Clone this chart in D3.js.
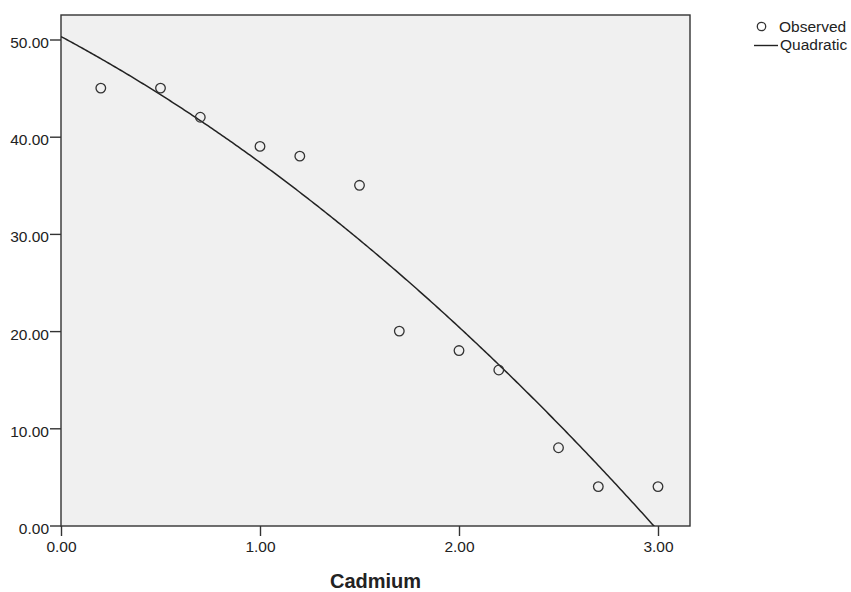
<!DOCTYPE html>
<html>
<head>
<meta charset="utf-8">
<script src="https://cdn.jsdelivr.net/npm/d3@7"></script>
<style>
  body { margin: 0; background: #fff; }
  svg text { font-family: "Liberation Sans", Arial, sans-serif; fill: #222; }
</style>
</head>
<body>
<svg id="chart"></svg>
<script>
const w = 851;
const h = 592;

const cadmium = [0.2, 0.5, 0.7, 1.0, 1.2, 1.5, 1.7, 2.0, 2.2, 2.5, 2.7, 3.0];
const observed = [45, 45, 42, 39, 38, 35, 20, 18, 16, 8, 4, 4];
const xTicks = [0, 1, 2, 3];
const yTicks = [0, 10, 20, 30, 40, 50];

// plot frame
const plotLeft = 61, plotRight = 690, plotTop = 15, plotBottom = 526;

const x = d3.scaleLinear().domain([0, 3]).range([plotLeft, 658]);
const y = d3.scaleLinear().domain([0, 50]).range([525.5, 39.5]);

// least squares quadratic fit from the observed points
function quadFit(xs, ys) {
  const s = [0, 0, 0, 0, 0];
  const t = [0, 0, 0];
  xs.forEach((xv, i) => {
    for (let k = 0; k < 5; k++) s[k] += Math.pow(xv, k);
    for (let k = 0; k < 3; k++) t[k] += Math.pow(xv, k) * ys[i];
  });
  const m = [
    [s[0], s[1], s[2], t[0]],
    [s[1], s[2], s[3], t[1]],
    [s[2], s[3], s[4], t[2]],
  ];
  for (let i = 0; i < 3; i++) {
    for (let j = i + 1; j < 3; j++) {
      const f = m[j][i] / m[i][i];
      for (let k = i; k < 4; k++) m[j][k] -= f * m[i][k];
    }
  }
  const c = [0, 0, 0];
  for (let i = 2; i >= 0; i--) {
    let v = m[i][3];
    for (let k = i + 1; k < 3; k++) v -= m[i][k] * c[k];
    c[i] = v / m[i][i];
  }
  return c;
}

const coef = quadFit(cadmium, observed);
const fitted = (v) => coef[0] + coef[1] * v + coef[2] * v * v;

const svg = d3.select('#chart').attr('width', w).attr('height', h);

svg.append('defs').append('clipPath').attr('id', 'plotclip')
  .append('rect')
  .attr('x', plotLeft).attr('y', plotTop)
  .attr('width', plotRight - plotLeft).attr('height', plotBottom - plotTop);

svg.append('rect')
  .attr('x', plotLeft).attr('y', plotTop)
  .attr('width', plotRight - plotLeft).attr('height', plotBottom - plotTop)
  .attr('fill', '#f0f0f0')
  .attr('stroke', '#333')
  .attr('stroke-width', 1.4);

// axes
const xAxis = d3.axisBottom(x).tickValues(xTicks).tickFormat(d3.format('.2f'))
  .tickSizeInner(10).tickSizeOuter(0).tickPadding(5);
const yAxis = d3.axisLeft(y).tickValues(yTicks).tickFormat(d3.format('.2f'))
  .tickSizeInner(11).tickSizeOuter(0).tickPadding(1);

const gx = svg.append('g').attr('transform', `translate(0,${plotBottom})`).call(xAxis);
const gy = svg.append('g').attr('transform', `translate(${plotLeft},0)`).call(yAxis);

[gx, gy].forEach((g) => {
  g.select('.domain').remove();
  g.selectAll('.tick line').attr('stroke', '#333').attr('stroke-width', 1.4);
  g.selectAll('.tick text')
    .attr('font-size', 15.5)
    .attr('font-family', '"Liberation Sans", Arial, sans-serif')
    .attr('fill', '#222');
});
gy.selectAll('.tick text').attr('dy', '0.52em');

// fitted curve
const curveX = d3.range(0, 3.1001, 0.01);
svg.append('path')
  .datum(curveX)
  .attr('clip-path', 'url(#plotclip)')
  .attr('fill', 'none')
  .attr('stroke', '#222')
  .attr('stroke-width', 1.5)
  .attr('d', d3.line().x((d) => x(d)).y((d) => y(fitted(d))));

// observed points
svg.append('g')
  .selectAll('circle')
  .data(cadmium)
  .enter()
  .append('circle')
  .attr('cx', (d) => x(d))
  .attr('cy', (d, i) => y(observed[i]))
  .attr('r', 4.8)
  .attr('fill', 'none')
  .attr('stroke', '#333')
  .attr('stroke-width', 1.3);

// axis title
svg.append('text')
  .attr('x', (plotLeft + plotRight) / 2)
  .attr('y', 588)
  .attr('text-anchor', 'middle')
  .attr('font-size', 20)
  .attr('font-weight', 'bold')
  .text('Cadmium');

// legend
const legend = svg.append('g');
legend.append('circle')
  .attr('cx', 761.5).attr('cy', 26.5).attr('r', 4.2)
  .attr('fill', 'none').attr('stroke', '#333').attr('stroke-width', 1.3);
legend.append('text')
  .attr('x', 779).attr('y', 32).attr('font-size', 15.5).text('Observed');
legend.append('line')
  .attr('x1', 754).attr('x2', 778).attr('y1', 45.5).attr('y2', 45.5)
  .attr('stroke', '#222').attr('stroke-width', 1.4);
legend.append('text')
  .attr('x', 780).attr('y', 50).attr('font-size', 15.5).text('Quadratic');
</script>
</body>
</html>
